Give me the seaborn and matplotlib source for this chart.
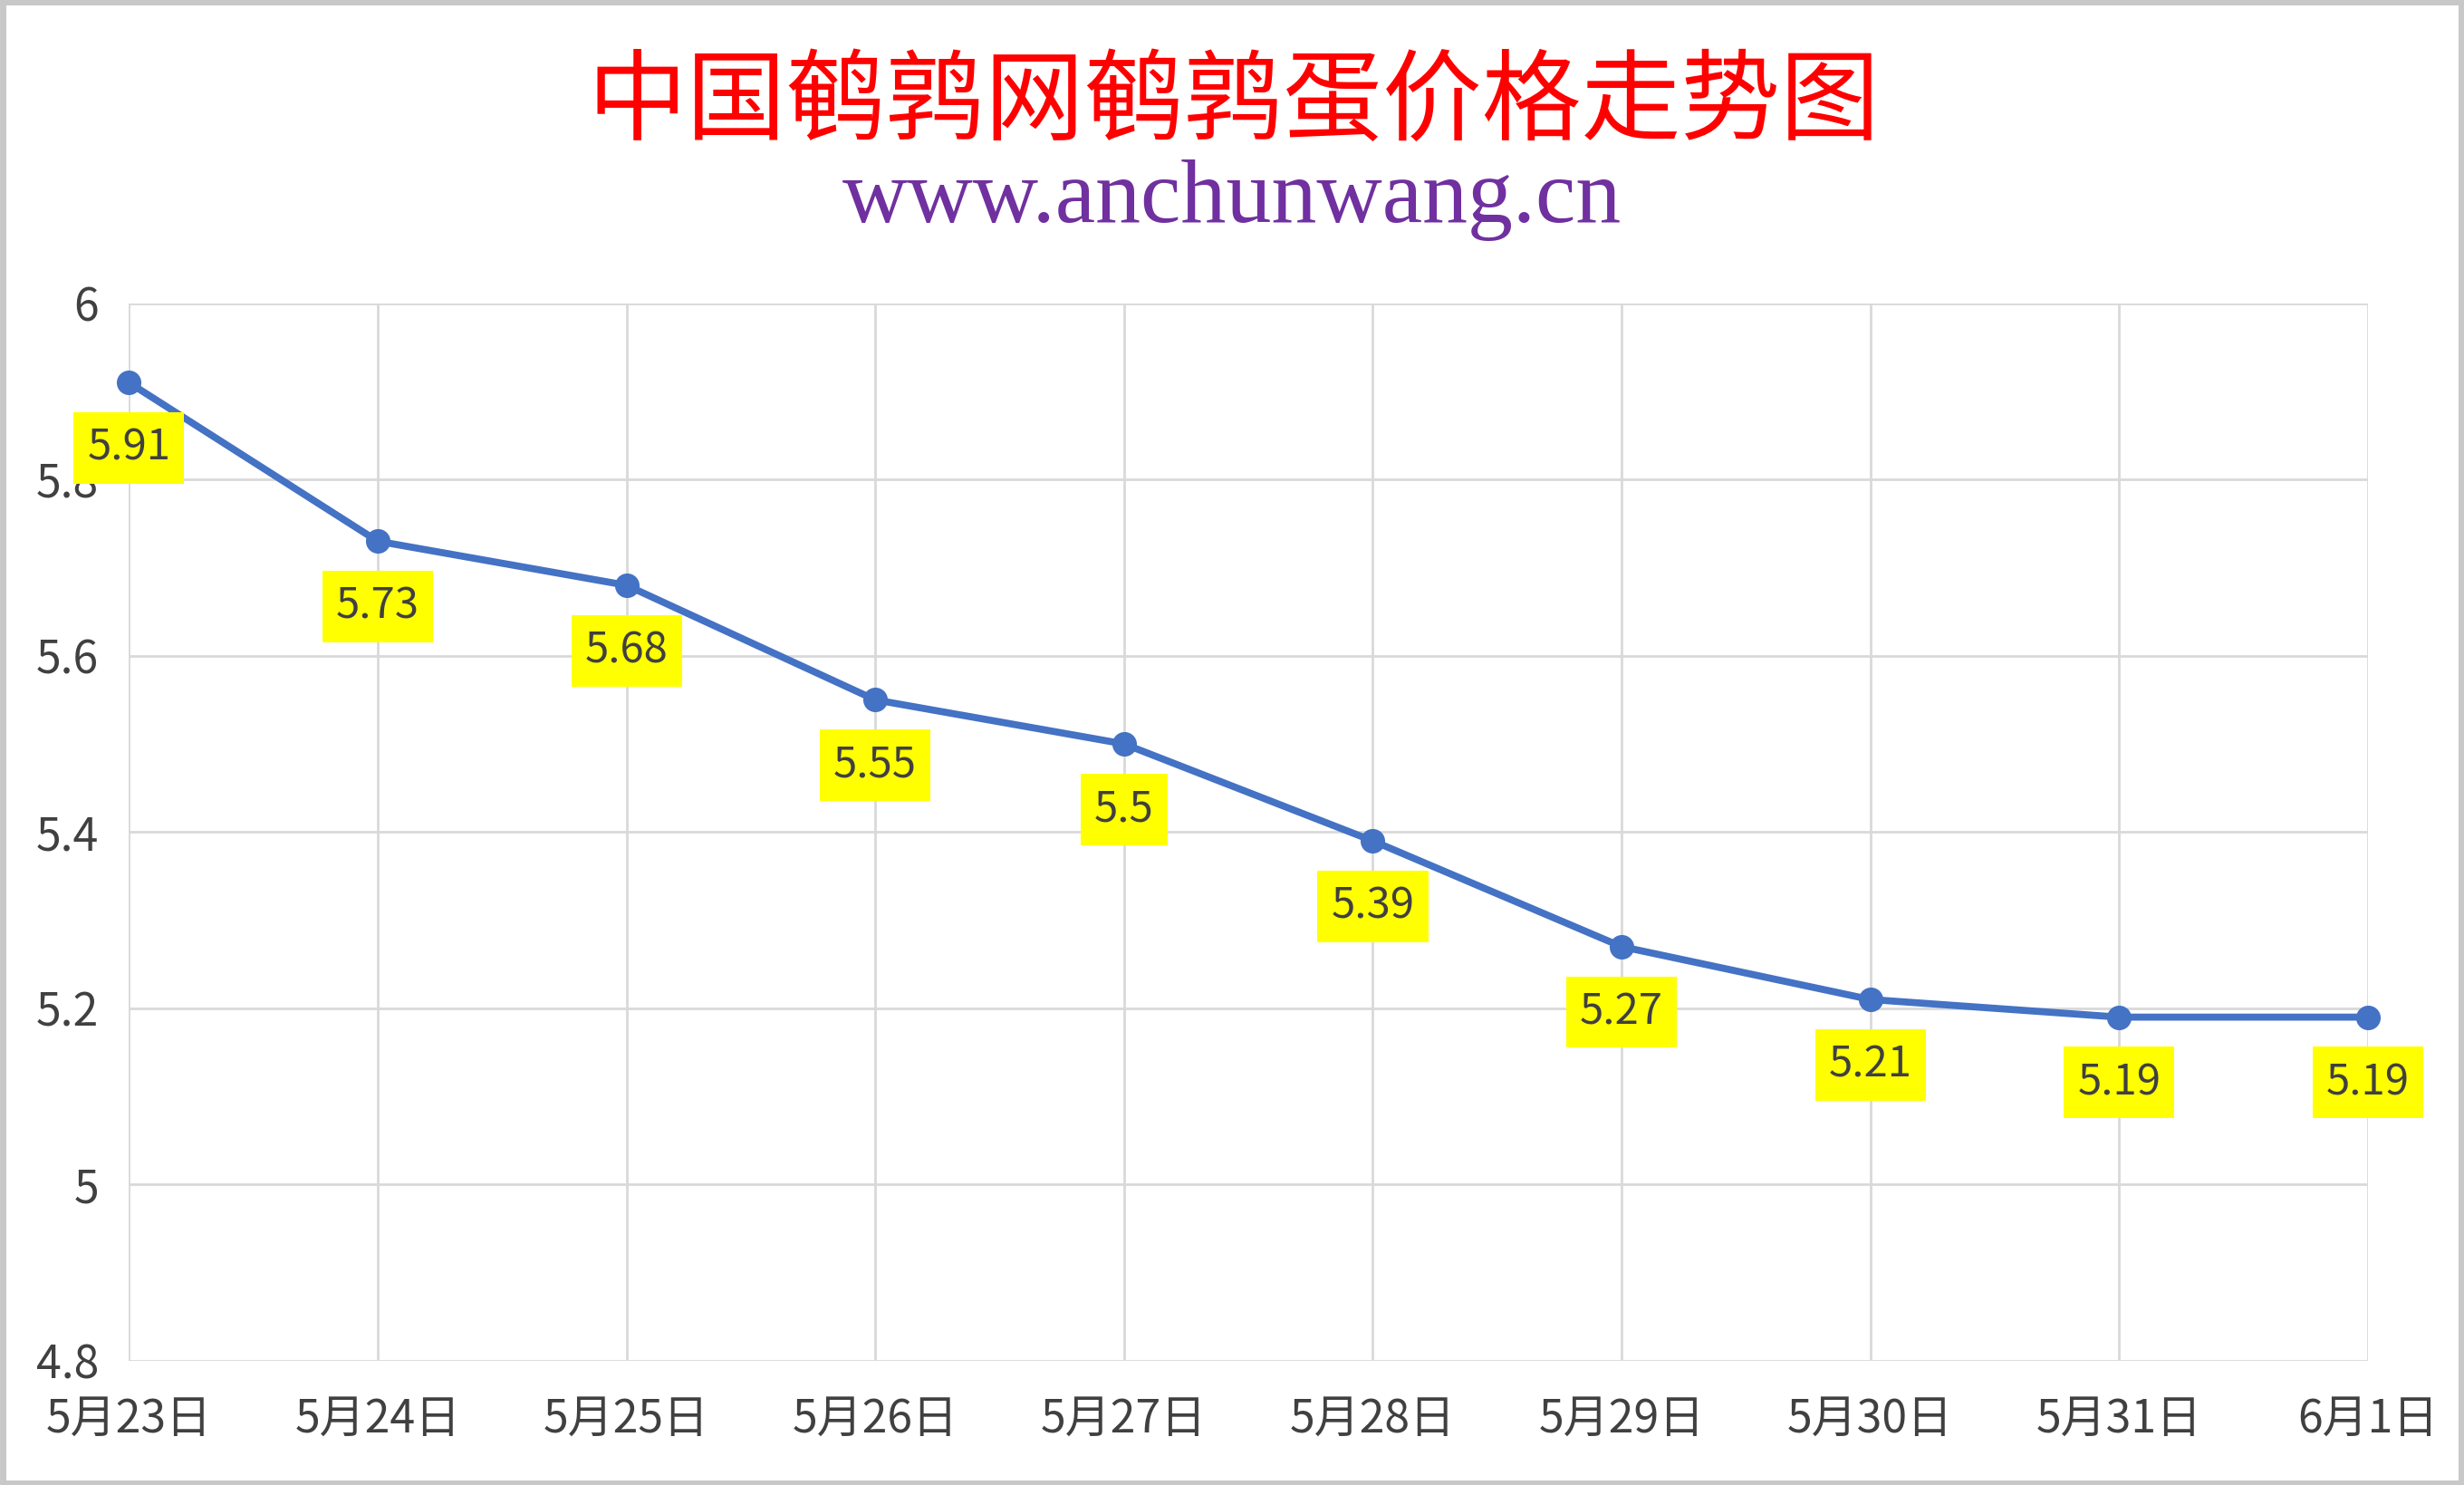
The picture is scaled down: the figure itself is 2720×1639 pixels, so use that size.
import matplotlib
matplotlib.use("Agg")
import matplotlib.pyplot as plt
import seaborn as sns
import pandas as pd
from matplotlib.patches import Rectangle
from matplotlib.ticker import FuncFormatter

dates = ['5月23日', '5月24日', '5月25日', '5月26日', '5月27日',
         '5月28日', '5月29日', '5月30日', '5月31日', '6月1日']
prices = [5.91, 5.73, 5.68, 5.55, 5.5, 5.39, 5.27, 5.21, 5.19, 5.19]
y_ticks = [4.8, 5.0, 5.2, 5.4, 5.6, 5.8, 6.0]

title = '中国鹌鹑网鹌鹑蛋价格走势图'
subtitle = 'www.anchunwang.cn'


def main():
    sns.set_theme(style='white')
    plt.rcParams['font.family'] = ['Noto Sans CJK SC', 'DejaVu Sans']

    df = pd.DataFrame({'idx': range(len(dates)), 'date': dates, 'price': prices})

    fig = plt.figure(figsize=(13.6, 8.195), dpi=200)
    ax = fig.add_axes([0.0523, 0.0836, 0.9087, 0.7122])

    sns.lineplot(data=df, x='idx', y='price', ax=ax, color='#4472C4',
                 linewidth=2.8, marker='o', markersize=9,
                 markeredgecolor='#4472C4', markerfacecolor='#4472C4',
                 clip_on=False, zorder=3)

    # data labels under each point, yellow boxes
    for i, v in zip(df['idx'], df['price']):
        ax.annotate(f"{v:g}", (i, v), xytext=(0, -26), textcoords='offset points',
                    ha='center', va='center', fontsize=17, color='#404040',
                    bbox=dict(boxstyle='square,pad=0.32', fc='#FFFF00', ec='none'),
                    zorder=4)

    ax.set_xlim(0, len(dates) - 1)
    ax.set_ylim(4.8, 6.0)
    ax.set_xticks(df['idx'])
    ax.set_xticklabels(dates)
    ax.set_yticks(y_ticks)
    ax.yaxis.set_major_formatter(FuncFormatter(lambda v, p: f"{v:g}"))
    ax.grid(True, color='#D9D9D9', linewidth=1.0)
    ax.set_axisbelow(True)
    for s in ax.spines.values():
        s.set_visible(False)
    ax.tick_params(axis='x', length=0, pad=14, labelsize=18, labelcolor='#404040')
    ax.tick_params(axis='y', length=0, pad=12, labelsize=18, labelcolor='#404040')
    ax.set_xlabel('')
    ax.set_ylabel('')

    fig.text(0.5006, 0.93, title, ha='center', va='center', fontsize=39.5,
             color='#FF0000')
    fig.text(0.5, 0.865, subtitle, ha='center', va='center', fontsize=36,
             color='#7030A0', family=['Liberation Serif', 'DejaVu Serif'])

    # light border around the chart
    fig.patches.append(Rectangle((0.001, 0.001), 0.998, 0.998, transform=fig.transFigure,
                                 fill=False, ec='#C8C8C8', lw=2.5))

    fig.savefig('out.png', dpi=200)
    plt.close(fig)


if __name__ == "__main__":
    main()
